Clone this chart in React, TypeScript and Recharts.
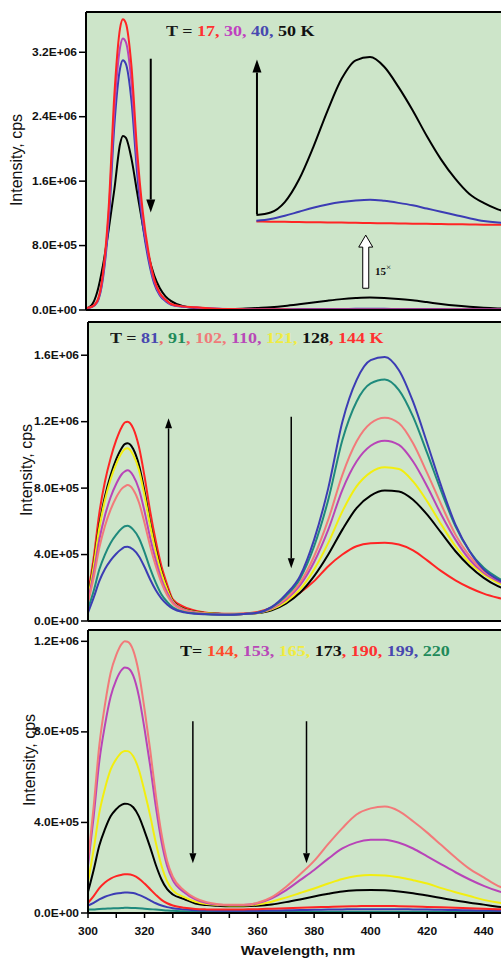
import { LineChart, Line, XAxis, YAxis, CartesianGrid, ReferenceLine } from "recharts";

const BG = "#cde5c9";

// wavelength grid (nm), intensities in kcps
const wl = [300, 302, 304, 306, 308, 310, 312, 313, 314, 316, 318, 320, 322, 324, 326, 328, 330, 334, 338, 342, 346, 350, 355, 360, 365, 370, 375, 380, 385, 390, 395, 400, 405, 410, 415, 420, 425, 430, 435, 440, 445, 450];
const insetWl = [360, 365, 370, 375, 380, 385, 390, 395, 400, 405, 410, 415, 420, 425, 430, 435, 440, 445, 450];
const xTicks = [300, 310, 320, 330, 340, 350, 360, 370, 380, 390, 400, 410, 420, 430, 440, 450];

// panel 1: T = 17, 30, 40, 50 K
const t17 = [25, 40, 115, 465, 1280, 2680, 3500, 3610, 3565, 3030, 1980, 1220, 720, 385, 210, 130, 75, 45, 35, 25, 17, 12, 8, 6, 5, 5, 4, 4, 4, 4, 4, 4, 4, 4, 3, 3, 3, 3, 3, 3, 3, 3];
const t30 = [22, 38, 108, 435, 1195, 2500, 3260, 3370, 3330, 2830, 1850, 1140, 675, 360, 195, 120, 70, 42, 32, 23, 16, 11, 8, 6, 6, 6, 6, 6, 6, 6, 6, 6, 6, 6, 5, 5, 5, 5, 5, 5, 5, 5];
const t40 = [20, 35, 100, 400, 1100, 2300, 3000, 3100, 3060, 2600, 1700, 1050, 620, 330, 180, 110, 65, 40, 30, 22, 15, 10, 8, 8, 9, 10, 11, 12, 13, 13, 14, 14, 14, 13, 13, 12, 11, 10, 9, 9, 8, 8];
const t50 = [15, 60, 230, 560, 1000, 1500, 2060, 2160, 2140, 1880, 1460, 1050, 680, 430, 270, 170, 110, 50, 25, 15, 12, 12, 15, 25, 35, 50, 70, 92, 115, 135, 148, 155, 150, 138, 120, 98, 75, 55, 40, 28, 20, 15];
// 15x inset
const inset50 = [1180, 1210, 1340, 1620, 2020, 2470, 2870, 3100, 3140, 3020, 2770, 2480, 2160, 1870, 1630, 1440, 1330, 1250, 1200];
const inset40 = [1107, 1130, 1170, 1220, 1270, 1310, 1340, 1360, 1370, 1355, 1330, 1300, 1260, 1220, 1180, 1140, 1105, 1085, 1075];
const inset17 = [1100, 1097, 1095, 1092, 1090, 1087, 1085, 1082, 1080, 1077, 1075, 1072, 1070, 1067, 1065, 1062, 1060, 1058, 1056];

// panel 2: T = 81 ... 144 K
const t81 = [50, 140, 240, 313, 365, 405, 435, 445, 447, 430, 390, 325, 250, 185, 135, 100, 75, 52, 43, 40, 38, 37, 42, 50, 85, 160, 270, 490, 800, 1200, 1450, 1570, 1590, 1510, 1320, 1070, 810, 580, 420, 310, 250, 210];
const t91 = [72, 180, 310, 400, 470, 520, 558, 570, 573, 550, 500, 415, 315, 230, 160, 115, 82, 55, 45, 41, 39, 38, 42, 50, 82, 150, 255, 450, 730, 1090, 1320, 1430, 1454, 1390, 1230, 1010, 780, 570, 420, 320, 260, 220];
const t102 = [110, 260, 440, 572, 670, 745, 797, 810, 818, 790, 715, 590, 450, 330, 230, 155, 105, 65, 50, 43, 40, 39, 42, 50, 78, 135, 230, 390, 610, 880, 1080, 1190, 1223, 1190, 1070, 890, 700, 520, 390, 300, 250, 210];
const t110 = [120, 290, 490, 635, 745, 826, 885, 900, 908, 875, 795, 660, 500, 365, 250, 170, 112, 68, 52, 44, 40, 39, 42, 50, 75, 128, 215, 355, 550, 790, 960, 1055, 1085, 1060, 960, 810, 640, 490, 370, 290, 240, 205];
const t121 = [135, 330, 560, 728, 853, 946, 1014, 1035, 1040, 1000, 910, 755, 575, 415, 285, 190, 118, 70, 55, 46, 42, 40, 42, 48, 70, 115, 190, 310, 470, 660, 810, 895, 925, 915, 840, 720, 580, 450, 350, 280, 230, 195];
const t128 = [146, 340, 578, 749, 877, 974, 1043, 1065, 1070, 1035, 940, 780, 590, 430, 295, 195, 122, 73, 56, 47, 43, 41, 42, 48, 65, 105, 170, 270, 400, 550, 680, 755, 785, 780, 730, 640, 530, 420, 330, 260, 210, 180];
const t144a = [167, 380, 650, 840, 980, 1090, 1170, 1195, 1200, 1160, 1050, 870, 660, 480, 330, 220, 130, 85, 62, 50, 45, 43, 45, 55, 80, 120, 170, 240, 330, 400, 450, 468, 471, 460, 425, 365, 300, 245, 200, 165, 140, 120];

// panel 3: T = 144 ... 220 K
const t144b = [230, 470, 740, 920, 1060, 1140, 1190, 1200, 1198, 1160, 1060, 900, 720, 520, 350, 230, 160, 100, 66, 48, 39, 36, 36, 45, 70, 115, 170, 230, 305, 375, 435, 462, 470, 450, 405, 355, 300, 245, 195, 157, 120, 100];
const t153 = [210, 425, 670, 830, 955, 1030, 1075, 1084, 1082, 1048, 957, 813, 650, 470, 316, 208, 145, 92, 60, 44, 37, 35, 35, 43, 65, 100, 145, 190, 240, 285, 312, 323, 324, 310, 285, 250, 215, 180, 148, 120, 97, 80];
const t165 = [137, 280, 442, 550, 633, 680, 710, 716, 715, 692, 633, 537, 430, 310, 209, 140, 100, 70, 50, 40, 35, 33, 33, 38, 50, 68, 88, 108, 130, 150, 163, 168, 166, 158, 145, 130, 110, 92, 75, 58, 46, 40];
const t173 = [93, 190, 298, 370, 427, 459, 479, 483, 482, 467, 427, 362, 290, 212, 148, 105, 82, 62, 42, 35, 32, 30, 30, 32, 38, 48, 60, 73, 85, 95, 100, 102, 100, 95, 87, 77, 66, 55, 45, 37, 28, 20];
const t190 = [45, 75, 110, 135, 152, 163, 169, 171, 171, 166, 152, 130, 105, 80, 58, 43, 33, 23, 18, 16, 15, 15, 16, 17, 19, 21, 23, 25, 27, 29, 30, 31, 31, 30, 29, 27, 25, 23, 21, 19, 17, 16];
const t199 = [33, 45, 60, 72, 80, 86, 89, 90, 90, 88, 80, 69, 56, 43, 33, 26, 21, 16, 12, 11, 10, 10, 10, 10, 11, 12, 13, 14, 15, 16, 17, 17, 17, 17, 16, 15, 14, 13, 12, 11, 10, 9];
const t220 = [15, 16, 18, 19, 20, 21, 22, 23, 23, 22, 21, 19, 17, 15, 13, 11, 10, 8, 7, 7, 6, 6, 6, 6, 6, 6, 6, 6, 6, 6, 6, 6, 6, 6, 6, 6, 5, 5, 5, 5, 5, 5];

const rows1 = wl.map((w, i) => ({ wl: w, t17: t17[i], t30: t30[i], t40: t40[i], t50: t50[i] }));
const insetRows = insetWl.map((w, i) => ({ wl: w, i50: inset50[i], i40: inset40[i], i17: inset17[i] }));
const rows2 = wl.map((w, i) => ({ wl: w, t81: t81[i], t91: t91[i], t102: t102[i], t110: t110[i], t121: t121[i], t128: t128[i], t144: t144a[i] }));
const rows3 = wl.map((w, i) => ({ wl: w, t144: t144b[i], t153: t153[i], t165: t165[i], t173: t173[i], t190: t190[i], t199: t199[i], t220: t220[i] }));

const RED = "#ff2424";
const MAG = "#b844b8";
const BLUE = "#3c3cb4";
const TEAL = "#1f8a7c";
const PINK = "#f27a7a";
const YEL = "#f2ee10";

const sci = (k: number) => {
  const [m, e] = (k * 1000).toExponential(1).split("e");
  return `${m}E${e[0]}${e.slice(1).padStart(2, "0")}`;
};

const YTick = ({ x, y, payload }: any) => (
  <text x={x} y={y} dy="0.36em" textAnchor="end" fontSize={10} fontWeight="bold" fill="#111"
    fontFamily="'Liberation Sans', Arial" transform={`translate(${x} 0) scale(1.2 1) translate(${-x} 0)`}>
    {sci(payload.value)}
  </text>
);

const XTick = ({ x, y, payload }: any) =>
  payload.value % 20 !== 0 ? <g /> : (
    <text x={x} y={y} dy="0.71em" textAnchor="middle" fontSize={10} fontWeight="bold" fill="#111"
      fontFamily="'Liberation Sans', Arial" transform={`translate(${x} 0) scale(1.2 1) translate(${-x} 0)`}>
      {payload.value}
    </text>
  );

const arrow = (head: number, half: number, w: number) => (p: any) => {
  const { x1, y1, x2, y2 } = p;
  const dir = y2 > y1 ? 1 : -1;
  const by = y2 - dir * head;
  return (
    <g>
      <line x1={x1} y1={y1} x2={x2} y2={by} stroke="#000" strokeWidth={w} />
      <polygon points={`${x2},${y2} ${x2 - half},${by} ${x2 + half},${by}`} fill="#000" />
    </g>
  );
};

const hollowArrow = (p: any) => {
  const { x1, y1, x2, y2 } = p;
  const by = y2 + 12;
  return (
    <path d={`M${x1 - 3},${y1} L${x1 - 3},${by} L${x1 - 7},${by} L${x2},${y2} L${x1 + 7},${by} L${x1 + 3},${by} L${x1 + 3},${y1} Z`}
      fill="#fff" stroke="#000" strokeWidth={1} />
  );
};

const curve = (key: string, color: string, data?: any[]) => (
  <Line key={key} data={data} dataKey={key} stroke={color} strokeWidth={2} dot={false} type="monotone" isAnimationActive={false} />
);

const axisLine = { stroke: "#000", strokeWidth: 2 };
const tickLine = { stroke: "#000", strokeWidth: 1.5 };

const label = (parts: [string, string][], left: number, top: number) => (
  <div style={{ position: "absolute", left, top, font: "bold 15px 'Liberation Serif', 'Times New Roman', serif", lineHeight: "15px", whiteSpace: "nowrap", transform: "scaleX(1.2)", transformOrigin: "left" }}>
    {parts.map(([t, c], i) => <span key={i} style={{ color: c }}>{t}</span>)}
  </div>
);

const yTitle = (cx: number, cy: number) => (
  <div style={{ position: "absolute", left: cx, top: cy, transform: "translate(-50%, -50%) rotate(-90deg)", font: "16px 'Liberation Sans', Arial", whiteSpace: "nowrap", color: "#111" }}>
    Intensity, cps
  </div>
);

export default function App() {
  return (
    <div style={{ position: "fixed", left: 0, top: 0, width: 501, height: 958, overflow: "hidden", background: "#fff" }}>
      <div style={{ position: "absolute", left: 0, top: 0 }}>
        <LineChart width={522} height={322} data={rows1} margin={{ top: 12, right: 10, bottom: 0, left: 0 }}>
          <CartesianGrid horizontal={false} vertical={false} fill={BG} fillOpacity={1} />
          <XAxis type="number" dataKey="wl" domain={[300, 450]} ticks={xTicks} tick={false} height={12} tickSize={5} axisLine={axisLine} tickLine={tickLine} allowDataOverflow />
          <YAxis domain={[0, 3700]} ticks={[0, 800, 1600, 2400, 3200]} width={86} tickSize={7} tickMargin={2} tick={YTick} axisLine={axisLine} tickLine={tickLine} allowDataOverflow />
          <ReferenceLine y={3700} stroke="#000" strokeWidth={2} />
          {curve("t50", "#000")}
          {curve("t40", BLUE)}
          {curve("t30", MAG)}
          {curve("t17", RED)}
          {curve("i17", RED, insetRows)}
          {curve("i40", BLUE, insetRows)}
          {curve("i50", "#000", insetRows)}
          <ReferenceLine segment={[{ x: 322.8, y: 3120 }, { x: 322.8, y: 1210 }]} shape={arrow(13, 4.5, 2)} ifOverflow="visible" />
          <ReferenceLine segment={[{ x: 360.2, y: 1190 }, { x: 360.2, y: 3110 }]} shape={arrow(13, 4.5, 2)} ifOverflow="visible" />
          <ReferenceLine segment={[{ x: 398.5, y: 270 }, { x: 398.5, y: 930 }]} shape={hollowArrow} ifOverflow="visible" />
        </LineChart>
      </div>

      <div style={{ position: "absolute", left: 0, top: 312 }}>
        <LineChart width={522} height={321} data={rows2} margin={{ top: 10, right: 10, bottom: 0, left: 0 }}>
          <CartesianGrid horizontal={false} vertical={false} fill={BG} fillOpacity={1} />
          <XAxis type="number" dataKey="wl" domain={[300, 450]} ticks={xTicks} tick={false} height={12} tickSize={5} axisLine={axisLine} tickLine={tickLine} allowDataOverflow />
          <YAxis domain={[0, 1800]} ticks={[0, 400, 800, 1200, 1600]} width={88} tickSize={7} tickMargin={2} tick={YTick} axisLine={axisLine} tickLine={tickLine} allowDataOverflow />
          <ReferenceLine y={1800} stroke="#000" strokeWidth={2} />
          {curve("t144", RED)}
          {curve("t128", "#000")}
          {curve("t121", YEL)}
          {curve("t110", MAG)}
          {curve("t102", PINK)}
          {curve("t91", TEAL)}
          {curve("t81", BLUE)}
          <ReferenceLine segment={[{ x: 328.5, y: 327 }, { x: 328.5, y: 1220 }]} shape={arrow(10, 3.5, 1.5)} ifOverflow="visible" />
          <ReferenceLine segment={[{ x: 371.9, y: 1230 }, { x: 371.9, y: 317 }]} shape={arrow(10, 3.5, 1.5)} ifOverflow="visible" />
        </LineChart>
      </div>

      <div style={{ position: "absolute", left: 0, top: 622 }}>
        <LineChart width={522} height={336} data={rows3} margin={{ top: 8, right: 10, bottom: 0, left: 0 }}>
          <CartesianGrid horizontal={false} vertical={false} fill={BG} fillOpacity={1} />
          <XAxis type="number" dataKey="wl" domain={[300, 450]} ticks={xTicks} tick={XTick} interval={0} height={45} tickSize={5} tickMargin={10} axisLine={axisLine} tickLine={tickLine} allowDataOverflow />
          <YAxis domain={[0, 1250]} ticks={[0, 400, 800, 1200]} width={88} tickSize={7} tickMargin={2} tick={YTick} axisLine={axisLine} tickLine={tickLine} allowDataOverflow />
          <ReferenceLine y={1250} stroke="#000" strokeWidth={2} />
          {curve("t220", TEAL)}
          {curve("t199", BLUE)}
          {curve("t190", RED)}
          {curve("t173", "#000")}
          {curve("t165", YEL)}
          {curve("t153", MAG)}
          {curve("t144", PINK)}
          <ReferenceLine segment={[{ x: 337.1, y: 847 }, { x: 337.1, y: 220 }]} shape={arrow(10, 3.5, 1.5)} ifOverflow="visible" />
          <ReferenceLine segment={[{ x: 377.3, y: 847 }, { x: 377.3, y: 220 }]} shape={arrow(10, 3.5, 1.5)} ifOverflow="visible" />
        </LineChart>
      </div>

      {label([["T = ", "#1a1a1a"], ["17, ", "#ff3030"], ["30, ", "#c040c0"], ["40, ", "#4848b0"], ["50 K", "#111"]], 166, 24)}
      {label([["T = ", "#1a1a1a"], ["81", "#4848b0"], [", ", "#ee6b6b"], ["91", "#218a5a"], [", ", "#ee6b6b"], ["102, ", "#f07a7a"], ["110, ", "#b848b8"], ["121, ", "#f0ec40"], ["128", "#111"], [", ", "#ff3030"], ["144 K", "#ff3030"]], 110, 331)}
      {label([["T= ", "#111"], ["144, ", "#ff4a2a"], ["153, ", "#b848b8"], ["165, ", "#f0ec40"], ["173", "#111"], [", ", "#ff3030"], ["190, ", "#ff3030"], ["199, ", "#4848b0"], ["220", "#218a5a"]], 180, 644)}

      <div style={{ position: "absolute", left: 375, top: 262, font: "bold 11px 'Liberation Serif', serif", color: "#111" }}>
        15<sup style={{ fontSize: 9, fontWeight: "normal" }}>×</sup>
      </div>

      {yTitle(17, 160)}
      {yTitle(27, 470)}
      {yTitle(30, 760)}

      <div style={{ position: "absolute", left: 298, top: 944, font: "bold 12.5px 'Liberation Sans', Arial", whiteSpace: "nowrap", color: "#111", transform: "translateX(-50%) scaleX(1.2)" }}>
        Wavelength, nm
      </div>
    </div>
  );
}
